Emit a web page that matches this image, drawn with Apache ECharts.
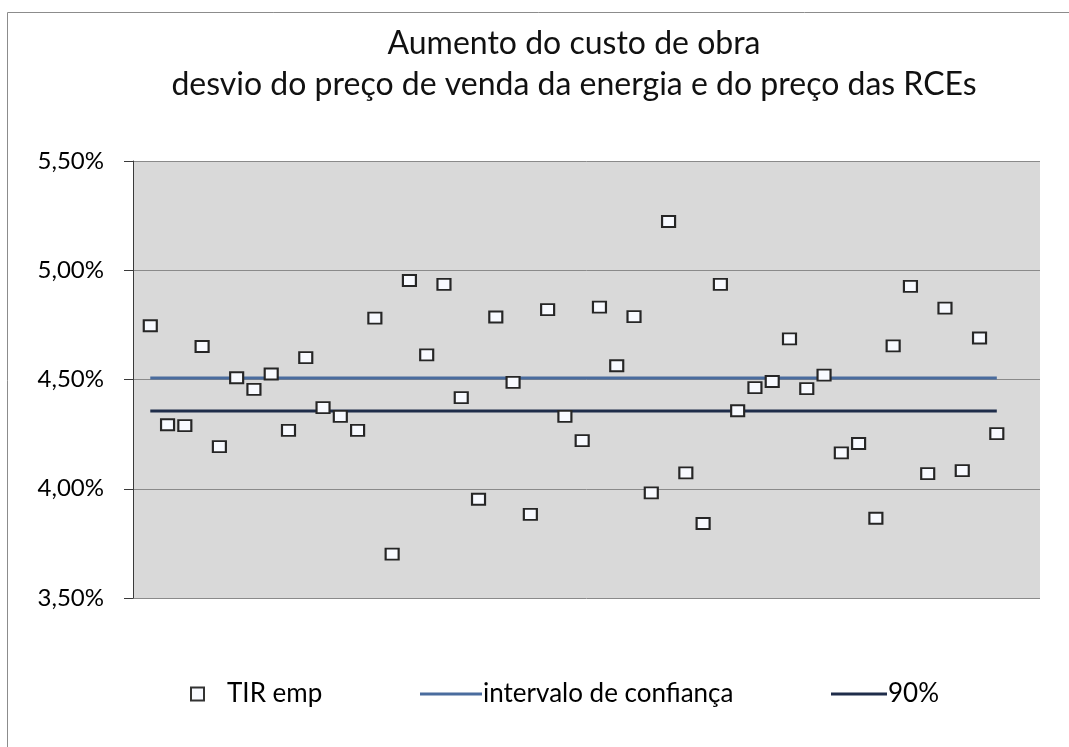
<!DOCTYPE html>
<html>
<head>
<meta charset="utf-8">
<script src="https://cdn.jsdelivr.net/npm/echarts@6/dist/echarts.min.js"></script>
<style>html,body{margin:0;padding:0;background:#fff;}#chart{width:1069px;height:747px;}</style>
</head>
<body>
<div id="chart"></div>
<script>
const titleLines = ['Aumento do custo de obra', 'desvio do preço de venda da energia e do preço das RCEs'];
const seriesNames = ['TIR emp', 'intervalo de confiança', '90%'];
const yTicks = [3.5, 4.0, 4.5, 5.0, 5.5];
const obs = [1,2,3,4,5,6,7,8,9,10,11,12,13,14,15,16,17,18,19,20,21,22,23,24,25,26,27,28,29,30,31,32,33,34,35,36,37,38,39,40,41,42,43,44,45,46,47,48,49,50];
const tirEmp = [4.746,4.293,4.289,4.651,4.193,4.508,4.455,4.525,4.267,4.600,
                4.371,4.331,4.267,4.781,3.701,4.953,4.613,4.935,4.417,3.952,
                4.786,4.487,3.883,4.820,4.331,4.220,4.831,4.563,4.788,3.981,
                5.223,4.073,3.841,4.935,4.357,4.463,4.491,4.686,4.458,4.520,
                4.164,4.207,3.865,4.654,4.926,4.069,4.827,4.083,4.690,4.252];
const intervaloX = [1, 50];
const intervaloY = [4.507, 4.507];
const noventaX = [1, 50];
const noventaY = [4.356, 4.356];

const FONT = 'Lato, "Open Sans", sans-serif';
const chart = echarts.init(document.getElementById('chart'));
const fmt = v => v.toFixed(2).replace('.', ',') + '%';

chart.setOption({
  animation: false,
  backgroundColor: '#ffffff',
  textStyle: { fontFamily: FONT },
  graphic: [{
    type: 'rect', silent: true, z: -10,
    shape: { x: 7.5, y: 12.5, width: 1200, height: 900 },
    style: { fill: 'none', stroke: '#8c8c8c', lineWidth: 1 }
  }],
  title: {
    text: titleLines.join('\n'),
    left: 569, top: 18, textAlign: 'center',
    textStyle: { fontFamily: FONT, fontSize: 32, fontWeight: 'normal', color: '#111', lineHeight: 41 }
  },
  legend: [
    { data: [{ name: seriesNames[0], icon: 'rect' }], left: 185, top: 676, itemWidth: 13, itemHeight: 13,
      itemStyle: { color: '#f8faff', borderColor: '#333', borderWidth: 2 },
      textStyle: { fontFamily: FONT, fontSize: 26, color: '#000', padding: [0, 0, 0, 18] } },
    { data: [{ name: seriesNames[1], icon: 'rect' }], left: 415, top: 676, itemWidth: 62, itemHeight: 3,
      itemStyle: { borderWidth: 0 },
      textStyle: { fontFamily: FONT, fontSize: 26, color: '#000', padding: [0, 0, 0, -4] } },
    { data: [{ name: seriesNames[2], icon: 'rect' }], left: 826, top: 676, itemWidth: 56, itemHeight: 3,
      itemStyle: { borderWidth: 0 },
      textStyle: { fontFamily: FONT, fontSize: 26, color: '#000', padding: [0, 0, 0, -4] } }
  ],
  grid: { left: 133, right: 29, top: 161, bottom: 149, show: true, backgroundColor: '#d9d9d9', borderWidth: 0 },
  xAxis: {
    type: 'value', min: 0, max: 52.5,
    axisLine: { show: false }, axisTick: { show: false }, axisLabel: { show: false }, splitLine: { show: false }
  },
  yAxis: {
    type: 'value', min: yTicks[0], max: yTicks[yTicks.length - 1], interval: 0.5,
    axisLine: { show: true, lineStyle: { color: '#3a3a3a', width: 1 } },
    axisTick: { show: true, inside: false, length: 9, lineStyle: { color: '#3a3a3a' } },
    axisLabel: { formatter: fmt, margin: 29, fontFamily: FONT, fontSize: 24, color: '#000' },
    splitLine: { show: true, lineStyle: { color: '#8a8a8a', width: 1 } }
  },
  series: [
    { name: seriesNames[0], type: 'scatter', symbol: 'rect', symbolSize: [13, 11],
      itemStyle: { color: '#f8faff', borderColor: '#262626', borderWidth: 2, opacity: 1 },
      data: obs.map((x, i) => [x, tirEmp[i]]), z: 5 },
    { name: seriesNames[1], type: 'line', symbol: 'none', color: '#4a6c9e',
      lineStyle: { color: '#4a6c9e', width: 3 },
      data: intervaloX.map((x, i) => [x, intervaloY[i]]), z: 3 },
    { name: seriesNames[2], type: 'line', symbol: 'none', color: '#1f2d4a',
      lineStyle: { color: '#1f2d4a', width: 3 },
      data: noventaX.map((x, i) => [x, noventaY[i]]), z: 3 }
  ]
});
</script>
</body>
</html>
